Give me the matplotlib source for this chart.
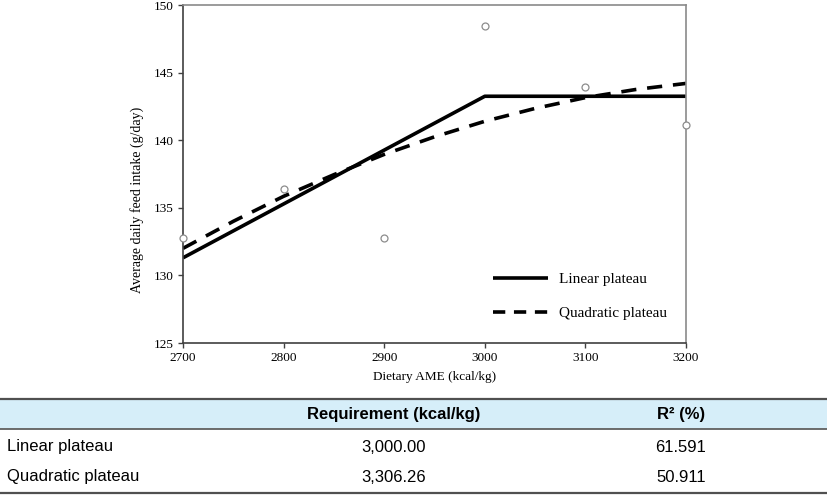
import matplotlib
matplotlib.use('Agg')
import matplotlib.pyplot as plt
from matplotlib.lines import Line2D

# observed feed intake
ame = [2700, 2800, 2900, 3000, 3100, 3200]
intake = [132.8, 136.4, 132.8, 148.45, 143.95, 141.1]

# linear plateau fit (break at 3000)
lp_x = [2700, 3000, 3200]
lp_y = [131.3, 143.25, 143.25]

# quadratic plateau fit
qp_x = [2700, 2750, 2800, 2850, 2900, 2950, 3000, 3050, 3100, 3150, 3200]
qp_y = [132.0, 134.0, 135.85, 137.45, 138.95, 140.25, 141.4, 142.35, 143.15, 143.75, 144.2]

# table below the chart
models = ['Linear plateau', 'Quadratic plateau']
requirement = ['3,000.00', '3,306.26']
r2 = ['61.591', '50.911']
headers = ['Requirement (kcal/kg)', 'R\u00b2 (%)']

W, H = 827, 495
serif = 'Liberation Serif'
sans = 'Liberation Sans'

fig = plt.figure(figsize=(W / 100, H / 100), dpi=100)
ax = fig.add_axes([183 / W, 1 - 343 / H, (686 - 183) / W, (343 - 5) / H])

ax.plot(lp_x, lp_y, color='black', lw=2.6, solid_capstyle='butt')
ax.plot(qp_x, qp_y, color='black', lw=2.6, dashes=(4.2, 3.0))
ax.plot(ame, intake, 'o', ms=5, mfc='white', mec='#8c8c8c', mew=0.9, clip_on=False, zorder=5)

ax.set_xlim(2700, 3200)
ax.set_ylim(125, 150)
ax.set_xticks(range(2700, 3201, 100))
ax.set_yticks(range(125, 151, 5))
ax.tick_params(direction='out', length=3.5, width=1, color='#404040', pad=3, labelsize=9.5)
for lbl in ax.get_xticklabels() + ax.get_yticklabels():
    lbl.set_fontfamily(serif)

for side in ['left', 'bottom']:
    ax.spines[side].set_color('#404040')
    ax.spines[side].set_linewidth(1.2)
for side in ['top', 'right']:
    ax.spines[side].set_color('#8a8a8a')
    ax.spines[side].set_linewidth(1.2)

ax.set_xlabel('Dietary AME (kcal/kg)', family=serif, fontsize=9.5, labelpad=5)
fig.text(137 / W, 1 - 200 / H, 'Average daily feed intake (g/day)', family=serif,
         fontsize=10, rotation=90, ha='center', va='center')

# legend keys use a slightly shorter dash than the curve
handles = [Line2D([], [], color='black', lw=2.6, solid_capstyle='butt'),
           Line2D([], [], color='black', lw=2.6, dashes=(3.4, 2.4))]
ax.legend(handles, models, loc='center left', bbox_to_anchor=(0.616, 0.138), frameon=False,
          prop={'family': serif, 'size': 11}, handlelength=3.6, handletextpad=0.7,
          labelspacing=1.35, borderpad=0, borderaxespad=0)

# table
tab = fig.add_axes([0, 0, 1, 1])
tab.set_xlim(0, W)
tab.set_ylim(H, 0)
tab.axis('off')
tab.axhspan(399, 429, color='#d6eef9', lw=0)
tab.axhline(399, color='#505050', lw=1.6)
tab.axhline(429, color='#606060', lw=1.3)
tab.axhline(493, color='#505050', lw=1.6)

col_x = [394, 681]
for cx, h in zip(col_x, headers):
    tab.text(cx, 414, h, family=sans, fontsize=12, weight='bold', ha='center', va='center')
for i, name in enumerate(models):
    y = 447 + 30 * i
    tab.text(7, y, name, family=sans, fontsize=12, ha='left', va='center')
    tab.text(col_x[0], y, requirement[i], family=sans, fontsize=12, ha='center', va='center')
    tab.text(col_x[1], y, r2[i], family=sans, fontsize=12, ha='center', va='center')

fig.savefig('out.png', dpi=100)
